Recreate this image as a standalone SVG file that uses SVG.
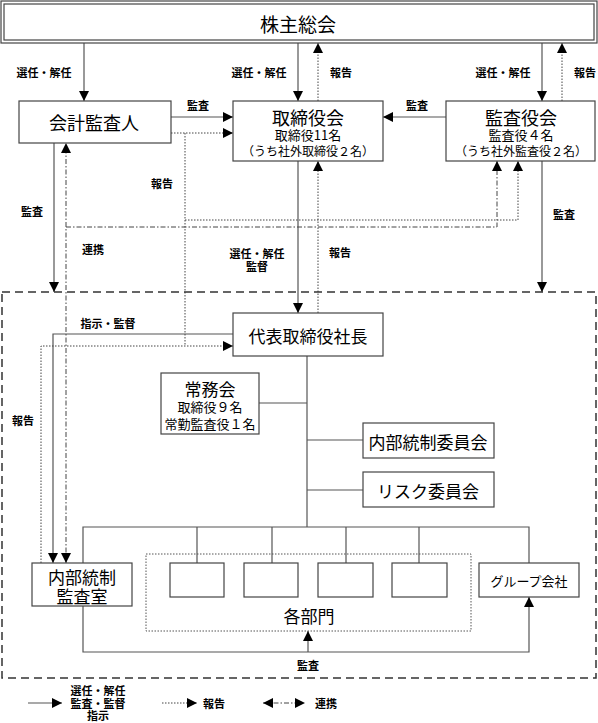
<svg xmlns="http://www.w3.org/2000/svg" width="598" height="723" viewBox="0 0 598 723">
<style>
text{font-family:"Noto Sans CJK JP","Noto Sans",sans-serif;fill:#000;text-anchor:middle;dominant-baseline:central}
.lbl{font-size:11px;font-weight:bold}
.big{font-size:18px}
.mid{font-size:17px}
.sm{font-size:13px}
.xs{font-size:12px}
.box{fill:#fff;stroke:#444;stroke-width:1.2}
.solid{fill:none;stroke:#555;stroke-width:1.2}
.dot{fill:none;stroke:#444;stroke-width:1;stroke-dasharray:1.5 1.5}
.dd{fill:none;stroke:#444;stroke-width:1;stroke-dasharray:5 2 1.5 2}
.bound{fill:none;stroke:#333;stroke-width:1.5;stroke-dasharray:8 5}
.dotbox{fill:none;stroke:#555;stroke-width:1;stroke-dasharray:1.5 1.5}
</style>
<defs>
<marker id="ah" markerUnits="userSpaceOnUse" markerWidth="11" markerHeight="10" refX="10" refY="5" orient="auto-start-reverse"><path d="M0,0 L10,5 L0,10 z" fill="#000"/></marker>
</defs>

<g id="connectors">
<path class="solid" d="M84,43 V101" marker-end="url(#ah)"/>
<path class="solid" d="M298,43 V101" marker-end="url(#ah)"/>
<path class="solid" d="M542,43 V101" marker-end="url(#ah)"/>
<path class="solid" d="M171,117 H233" marker-end="url(#ah)"/>
<path class="solid" d="M446,117 H383" marker-end="url(#ah)"/>
<path class="solid" d="M54,143 V292" marker-end="url(#ah)"/>
<path class="solid" d="M542,161 V292" marker-end="url(#ah)"/>
<path class="solid" d="M298,161 V313" marker-end="url(#ah)"/>
<path class="solid" d="M233,334 H53 V563" marker-end="url(#ah)"/>
<path class="dot" d="M318,101 V43" marker-end="url(#ah)"/>
<path class="dot" d="M562,101 V43" marker-end="url(#ah)"/>
<path class="dot" d="M171,133 H233" marker-end="url(#ah)"/>
<path class="dot" d="M185,133 V346"/>
<path class="dot" d="M185,220 H518 V161" marker-end="url(#ah)"/>
<path class="dot" d="M41,563 V346 H233" marker-end="url(#ah)"/>
<path class="dot" d="M318,313 V161" marker-end="url(#ah)"/>
<path class="dd" d="M66,563 V143" marker-start="url(#ah)" marker-end="url(#ah)"/>
<path class="dd" d="M66,227 H497 V161" marker-end="url(#ah)"/>
<path class="solid" d="M307,356 V527"/>
<path class="solid" d="M259,403 H307"/>
<path class="solid" d="M307,440 H363"/>
<path class="solid" d="M307,490 H363"/>
<path class="solid" d="M83,563 V527 H529 V563"/>
<path class="solid" d="M197,527 V563 M272,527 V563 M346,527 V563 M419,527 V563"/>
<path class="solid" d="M83,606 V652 H529 V597" marker-end="url(#ah)"/>
<path class="solid" d="M308,652 V631" marker-end="url(#ah)"/>
<rect class="bound" x="2" y="292" width="594" height="386"/>
</g>

<g id="labels">
<text class="lbl" x="44" y="72">選任・解任</text>
<text class="lbl" x="259" y="72">選任・解任</text>
<text class="lbl" x="341" y="72">報告</text>
<text class="lbl" x="503" y="72">選任・解任</text>
<text class="lbl" x="585" y="72">報告</text>
<text class="lbl" x="198" y="105">監査</text>
<text class="lbl" x="417" y="105">監査</text>
<text class="lbl" x="162" y="183">報告</text>
<text class="lbl" x="32" y="211">監査</text>
<text class="lbl" x="564" y="214">監査</text>
<text class="lbl" x="93" y="249">連携</text>
<text class="lbl" x="257" y="253">選任・解任</text>
<text class="lbl" x="257" y="266">監督</text>
<text class="lbl" x="340" y="252">報告</text>
<text class="lbl" x="108" y="323">指示・監督</text>
<text class="lbl" x="23" y="420">報告</text>
<text class="lbl" x="308" y="665">監査</text>
</g>

<g id="n-kabunushi">
<rect class="box" x="1" y="1" width="596" height="42"/>
<rect class="box" x="4" y="4" width="590" height="36"/>
<text x="298" y="23" style="font-size:19px">株主総会</text>
</g>
<g id="n-kaikei">
<rect class="box" x="19" y="101" width="152" height="42"/>
<text class="big" x="94" y="122">会計監査人</text>
</g>
<g id="n-torishimariyakukai">
<rect class="box" x="233" y="101" width="150" height="60"/>
<text class="big" x="308" y="117">取締役会</text>
<text class="sm" x="308" y="134">取締役11名</text>
<text class="xs" x="308" y="150">（うち社外取締役２名）</text>
</g>
<g id="n-kansayakukai">
<rect class="box" x="446" y="101" width="149" height="60"/>
<text class="big" x="521" y="117">監査役会</text>
<text class="sm" x="521" y="134">監査役４名</text>
<text class="xs" x="521" y="150">（うち社外監査役２名）</text>
</g>
<g id="n-shacho">
<rect class="box" x="233" y="313" width="150" height="43"/>
<text class="mid" x="308" y="335">代表取締役社長</text>
</g>
<g id="n-jomukai">
<rect class="box" x="161" y="373" width="98" height="61"/>
<text class="mid" x="210" y="388">常務会</text>
<text class="sm" x="210" y="406">取締役９名</text>
<text class="sm" x="210" y="423">常勤監査役１名</text>
</g>
<g id="n-naibutosei-iinkai">
<rect class="box" x="363" y="423" width="131" height="35"/>
<text class="mid" x="428" y="441">内部統制委員会</text>
</g>
<g id="n-risk">
<rect class="box" x="363" y="472" width="131" height="35"/>
<text class="mid" x="428" y="490">リスク委員会</text>
</g>
<g id="n-kansashitsu">
<rect class="box" x="32" y="563" width="100" height="43"/>
<text class="mid" x="82" y="576">内部統制</text>
<text class="mid" x="82" y="595">監査室</text>
</g>
<g id="n-kakubumon">
<rect class="dotbox" x="146" y="554" width="325" height="77"/>
<rect class="box" x="170" y="563" width="54" height="34"/>
<rect class="box" x="244" y="563" width="54" height="34"/>
<rect class="box" x="318" y="563" width="55" height="34"/>
<rect class="box" x="392" y="563" width="55" height="34"/>
<text class="mid" x="309" y="615">各部門</text>
</g>
<g id="n-group">
<rect class="box" x="479" y="563" width="100" height="34"/>
<text class="sm" x="529" y="580">グループ会社</text>
</g>

<g id="legend">
<path class="solid" d="M28,703 H62" marker-end="url(#ah)"/>
<text class="lbl" x="98" y="690">選任・解任</text>
<text class="lbl" x="98" y="703">監査・監督</text>
<text class="lbl" x="98" y="715">指示</text>
<path class="dot" d="M162,703 H197" marker-end="url(#ah)"/>
<text class="lbl" x="214" y="703">報告</text>
<path class="dd" d="M263,703 H305" marker-start="url(#ah)" marker-end="url(#ah)"/>
<text class="lbl" x="326" y="703">連携</text>
</g>
</svg>
